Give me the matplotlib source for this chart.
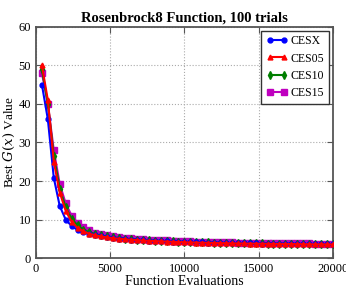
import numpy as np
import matplotlib
matplotlib.use('Agg')
import matplotlib.pyplot as plt

plt.rcParams['font.family'] = ['Liberation Serif', 'DejaVu Serif']
plt.rcParams['mathtext.fontset'] = 'dejavuserif'

evals = np.arange(400, 20001, 400)

cesx = [45, 36, 20.8, 13.5, 10.0, 8.3, 7.3, 6.7, 6.2, 5.9,
        5.6, 5.4, 5.2, 5.05, 4.9, 4.8, 4.7, 4.6, 4.5, 4.45,
        4.4, 4.33, 4.27, 4.21, 4.16, 4.11, 4.07, 4.03, 3.99, 3.96,
        3.93, 3.90, 3.87, 3.84, 3.82, 3.80, 3.78, 3.76, 3.74, 3.72,
        3.70, 3.69, 3.67, 3.66, 3.64, 3.63, 3.62, 3.61, 3.60, 3.59]
ces05 = [50, 41, 25, 17, 12.3, 9.4, 7.8, 6.9, 6.3, 5.9,
         5.6, 5.35, 5.15, 5.0, 4.85, 4.75, 4.65, 4.55, 4.47, 4.4,
         4.34, 4.28, 4.22, 4.16, 4.11, 4.06, 4.02, 3.98, 3.94, 3.91,
         3.88, 3.85, 3.82, 3.80, 3.77, 3.75, 3.73, 3.71, 3.69, 3.67,
         3.65, 3.64, 3.62, 3.61, 3.59, 3.58, 3.57, 3.56, 3.55, 3.54]
ces10 = [49, 40, 26.5, 18, 13.2, 10.2, 8.5, 7.4, 6.7, 6.2,
         5.85, 5.6, 5.4, 5.2, 5.05, 4.92, 4.8, 4.7, 4.6, 4.52,
         4.45, 4.38, 4.32, 4.26, 4.21, 4.16, 4.11, 4.07, 4.03, 3.99,
         3.96, 3.93, 3.90, 3.87, 3.84, 3.82, 3.80, 3.78, 3.76, 3.74,
         3.72, 3.70, 3.68, 3.67, 3.65, 3.64, 3.63, 3.62, 3.61, 3.60]
ces15 = [48, 40, 28, 19.2, 14.2, 11.0, 9.2, 8.0, 7.2, 6.6,
         6.2, 5.9, 5.65, 5.45, 5.3, 5.15, 5.02, 4.9, 4.8, 4.72,
         4.64, 4.57, 4.5, 4.44, 4.38, 4.33, 4.28, 4.23, 4.19, 4.15,
         4.11, 4.08, 4.05, 4.02, 3.99, 3.96, 3.94, 3.91, 3.89, 3.87,
         3.85, 3.83, 3.81, 3.80, 3.78, 3.77, 3.75, 3.74, 3.73, 3.72]

fig = plt.figure(figsize=(3.46, 2.87), dpi=100)
ax = fig.add_axes([0.104, 0.101, 0.858, 0.805])

ax.plot(evals, ces15, 's-', color='#bf00bf', ms=4, lw=1.5, label='CES15', zorder=3)
ax.plot(evals, ces10, 'd-', color='#007f00', ms=4, lw=1.5, label='CES10', zorder=4)
ax.plot(evals, cesx, 'o-', color='#0000ff', ms=3.5, lw=1.5, label='CESX', zorder=5)
ax.plot(evals, ces05, '^-', color='#ff0000', ms=3.5, lw=1.5, label='CES05', zorder=6)

ax.set_xlim(0, 20000)
ax.set_ylim(0, 60)
ax.set_xticks([0, 5000, 10000, 15000, 20000])
ax.set_yticks([0, 10, 20, 30, 40, 50, 60])
ax.grid(True, linestyle=':', color='#aaaaaa', lw=0.8)
ax.tick_params(direction='in', top=True, right=True, labelsize=9, length=4, color='#555555')
for s in ax.spines.values():
    s.set_color('#555555')
    s.set_linewidth(1.3)

ax.set_title('Rosenbrock8 Function, 100 trials', fontsize=10.5, fontweight='bold', pad=4)
ax.set_xlabel('Function Evaluations', fontsize=10, labelpad=0)
ax.set_ylabel('Best $G(x)$ Value', fontsize=9.5, labelpad=1)

h, l = ax.get_legend_handles_labels()
order = [2, 3, 1, 0]
leg = ax.legend([h[i] for i in order], [l[i] for i in order], loc='upper right',
                fontsize=8.5, fancybox=False, framealpha=1, edgecolor='#333333',
                numpoints=2, handlelength=1.8, borderpad=0.4, labelspacing=0.45,
                handletextpad=0.3, borderaxespad=0.3)
leg.get_frame().set_linewidth(1.0)

fig.savefig('out.png', dpi=100)
